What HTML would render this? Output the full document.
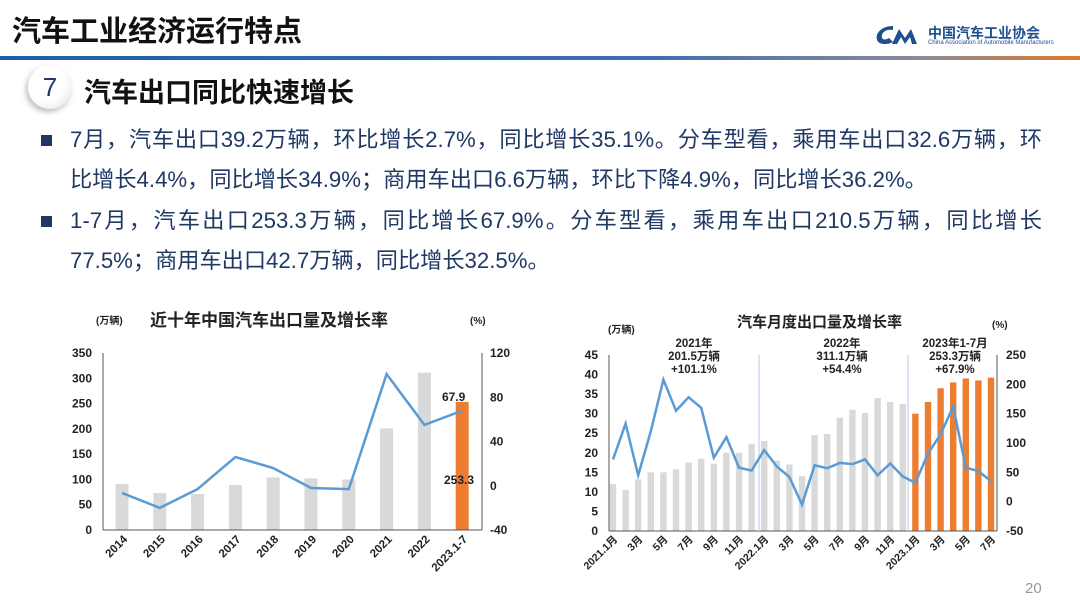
<!DOCTYPE html>
<html><head><meta charset="utf-8"><style>
body{margin:0;width:1080px;height:607px;overflow:hidden;background:#fff;font-family:"Liberation Sans","Noto Sans CJK SC",sans-serif;position:relative}
.a{position:absolute;white-space:nowrap}
.ln{position:absolute;left:70px;width:972px;font-size:22.2px;color:#1f3864;text-align:justify;text-align-last:justify;line-height:28px;white-space:nowrap}
.bl{position:absolute;left:41px;width:11px;height:11px;background:#1f3864}
</style></head><body>
<div class="a" style="left:12px;top:8px;font-size:29px;font-weight:bold;color:#111">汽车工业经济运行特点</div>
<div class="a" style="left:0;top:56px;width:1080px;height:4px;background:linear-gradient(90deg,#1e5ea8 0%,#3d6fb0 60%,#8a8a9a 85%,#e07a2a 100%)"></div>
<svg class="a" style="left:875px;top:24px" width="50" height="22"><path d="M18 2 C6 2 0 10 2 16 C4 21 12 21 18 18 L14 14 C9 17 6 15 7 11 C8 7 13 5 18 6 Z" fill="#1e4f8f"/><path d="M17 20 L24 5 L30 14 L36 5 L42 20 L37 20 L35 13 L30 20 L26 13 L22 20Z" fill="#1e4f8f"/></svg>
<div class="a" style="left:928px;top:23px;font-size:14px;font-weight:bold;color:#1e4f8f">中国汽车工业协会</div>
<div class="a" style="left:928px;top:40px;font-size:6px;color:#1e4f8f">China Association of Automobile Manufacturers</div>
<div class="a" style="left:28px;top:65px;width:44px;height:44px;border-radius:50%;background:radial-gradient(circle at 40% 40%,#fff 50%,#ddd 100%);box-shadow:-2px 3px 6px #bbb;font-size:26px;color:#1f3864;text-align:center;line-height:44px">7</div>
<div class="a" style="left:84px;top:71px;font-size:27px;font-weight:bold;color:#111">汽车出口同比快速增长</div>
<div class="bl" style="top:135px"></div>
<div class="ln" style="top:126px">7月，汽车出口39.2万辆，环比增长2.7%，同比增长35.1%。分车型看，乘用车出口32.6万辆，环</div>
<div class="ln" style="top:166px;text-align-last:left">比增长4.4%，同比增长34.9%；商用车出口6.6万辆，环比下降4.9%，同比增长36.2%。</div>
<div class="bl" style="top:216px"></div>
<div class="ln" style="top:207px">1-7月，汽车出口253.3万辆，同比增长67.9%。分车型看，乘用车出口210.5万辆，同比增长</div>
<div class="ln" style="top:247px;text-align-last:left">77.5%；商用车出口42.7万辆，同比增长32.5%。</div>
<div class="a" style="left:1025px;top:580px;font-size:15px;color:#999">20</div>
<svg class="a" style="left:0;top:0" width="1080" height="607" font-family="Liberation Sans,Noto Sans CJK SC,sans-serif">
<g id="L"></g><g id="R"></g>
</svg>
<script>
const NS="http://www.w3.org/2000/svg";
function el(p,t,a,txt){const e=document.createElementNS(NS,t);for(const k in a)e.setAttribute(k,a[k]);if(txt!=null)e.textContent=txt;p.appendChild(e);return e;}
let L=document.getElementById('L');
el(L,'text',{x:96,y:324,'font-size':10,'font-weight':'bold',fill:'#222'},'(万辆)');
el(L,'text',{x:150,y:326,'font-size':17,'font-weight':'bold',fill:'#222'},'近十年中国汽车出口量及增长率');
el(L,'text',{x:470,y:324,'font-size':10,'font-weight':'bold',fill:'#222'},'(%)');
const ly=v=>530-v*0.5057, ry=v=>530-(v+40)*1.106;
for(let v=0;v<=350;v+=50)el(L,'text',{x:92,y:ly(v)+4,'font-size':12,'font-weight':'bold','text-anchor':'end',fill:'#222'},v);
for(let v=-40;v<=120;v+=40)el(L,'text',{x:490,y:ry(v)+4,'font-size':12,'font-weight':'bold',fill:'#222'},v);
const lv=[91,73,71,89,104,102,100,201,311,253.3],lg=[-6.5,-20,-3,26,16,-2,-3,101,55,67.9];
const yrs=['2014','2015','2016','2017','2018','2019','2020','2021','2022','2023.1-7'];
let pts=[];
lv.forEach((v,i)=>{const x=122+i*37.8;el(L,'rect',{x:x-6.5,y:ly(v),width:13,height:530-ly(v),fill:i==9?'#ed7d31':'#d9d9d9'});pts.push(x+','+ry(lg[i]));
el(L,'text',{transform:`translate(${x+6},540) rotate(-45)`,'font-size':11.5,'font-weight':'bold','text-anchor':'end',fill:'#222'},yrs[i]);});
el(L,'line',{x1:103,y1:353,x2:103,y2:530,stroke:'#555'});el(L,'line',{x1:482,y1:353,x2:482,y2:530,stroke:'#555'});el(L,'line',{x1:103,y1:530,x2:482,y2:530,stroke:'#555'});
el(L,'polyline',{points:pts.join(' '),fill:'none',stroke:'#5b9bd5','stroke-width':2.5});
el(L,'text',{x:442,y:401,'font-size':12,'font-weight':'bold',fill:'#222'},'67.9');
el(L,'text',{x:444,y:484,'font-size':12,'font-weight':'bold',fill:'#222'},'253.3');
let R=document.getElementById('R');
el(R,'text',{x:608,y:333,'font-size':10,'font-weight':'bold',fill:'#222'},'(万辆)');
el(R,'text',{x:737,y:327,'font-size':15,'font-weight':'bold',fill:'#222'},'汽车月度出口量及增长率');
el(R,'text',{x:992,y:328,'font-size':10,'font-weight':'bold',fill:'#222'},'(%)');
const by=v=>531-v*3.911, gy=v=>531-(v+50)*0.5867;
for(let v=0;v<=45;v+=5)el(R,'text',{x:598,y:by(v)+4,'font-size':12,'font-weight':'bold','text-anchor':'end',fill:'#222'},v);
for(let v=-50;v<=250;v+=50)el(R,'text',{x:1006,y:gy(v)+4,'font-size':12,'font-weight':'bold',fill:'#222'},v);
const mv=[12,10.5,13.2,15,15,15.8,17.5,18.5,17.2,20,20,22.3,23,18,17,14,24.5,24.8,29,31,30.2,34,33,32.5,30,33,36.5,38,39,38.5,39.2];
const mg=[72,133,45,120,208,155,178,160,75,110,58,53,88,60,42,-5,62,57,66,64,72,45,65,43,32,82,115,162,58,52,35];
pts=[];
mv.forEach((v,i)=>{const x=613+i*12.6;el(R,'rect',{x:x-3.2,y:by(v),width:6.4,height:531-by(v),fill:i>=24?'#ed7d31':'#d9d9d9'});pts.push(x+','+gy(mg[i]));});
const lab={0:'2021.1月',2:'3月',4:'5月',6:'7月',8:'9月',10:'11月',12:'2022.1月',14:'3月',16:'5月',18:'7月',20:'9月',22:'11月',24:'2023.1月',26:'3月',28:'5月',30:'7月'};
for(const i in lab){const x=613+i*12.6;el(R,'text',{transform:`translate(${x+5},540) rotate(-45)`,'font-size':10.5,'font-weight':'bold','text-anchor':'end',fill:'#222'},lab[i]);}
el(R,'line',{x1:609,y1:355,x2:609,y2:531,stroke:'#555'});el(R,'line',{x1:997,y1:355,x2:997,y2:531,stroke:'#555'});el(R,'line',{x1:609,y1:531,x2:997,y2:531,stroke:'#555'});
el(R,'line',{x1:759,y1:355,x2:759,y2:531,stroke:'#b4c7e7'});el(R,'line',{x1:908,y1:355,x2:908,y2:531,stroke:'#b4c7e7'});
el(R,'polyline',{points:pts.join(' '),fill:'none',stroke:'#5b9bd5','stroke-width':2.5});
[[694,['2021年','201.5万辆','+101.1%']],[842,['2022年','311.1万辆','+54.4%']],[955,['2023年1-7月','253.3万辆','+67.9%']]].forEach(([x,a])=>a.forEach((t,j)=>el(R,'text',{x:x,y:347+j*13,'font-size':11.5,'font-weight':'bold','text-anchor':'middle',fill:'#222'},t)));
</script>
</body></html>
